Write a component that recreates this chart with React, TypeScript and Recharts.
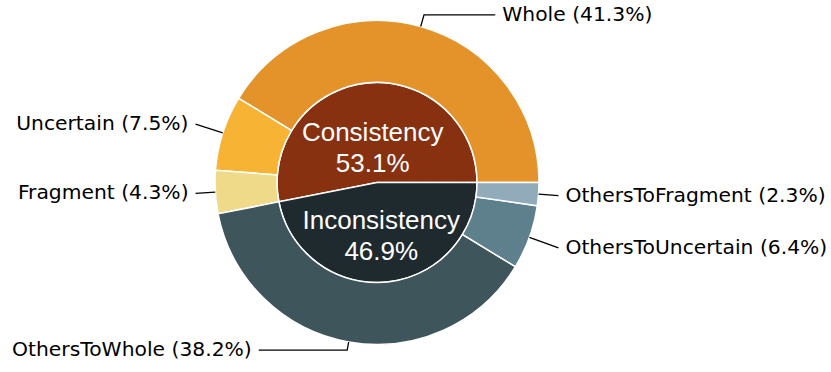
// App.tsx
// Nested pie: consistency split (inner) and its breakdown (outer ring).
import { PieChart, Pie, Cell } from "recharts";

const innerNames = ["Consistency", "Inconsistency"];
const innerValues = [53.1, 46.9];
const innerColors = ["#873110", "#1F2A2F"];

const outerNames = ["Whole", "Uncertain", "Fragment", "OthersToWhole", "OthersToUncertain", "OthersToFragment"];
const outerValues = [41.3, 7.5, 4.3, 38.2, 6.4, 2.3];
const outerColors = ["#E3932A", "#F7B334", "#EFDA8A", "#3E555C", "#5E7F8C", "#91ABBB"];

const innerData = innerNames.map((name, i) => ({ name, value: innerValues[i] }));
const outerData = outerNames.map((name, i) => ({ name, value: outerValues[i] }));

const RAD = Math.PI / 180;
const LABEL_FONT = "'DejaVu Sans', sans-serif";

function OuterLabel(props: any) {
  const { cx, cy, midAngle, outerRadius, name, value } = props;
  const cos = Math.cos(-midAngle * RAD);
  const sin = Math.sin(-midAngle * RAD);
  const sx = cx + outerRadius * cos;
  const sy = cy + outerRadius * sin;
  const side = cos >= 0 ? 1 : -1;
  let pts: [number, number][];
  if (Math.abs(cos) > 0.5) {
    // straight radial leader out to a fixed horizontal distance
    const t = (outerRadius * 1.12) / Math.abs(cos);
    pts = [[sx, sy], [cx + t * cos, cy + t * sin]];
  } else {
    // elbow: radial to just beyond the rim, then horizontal
    const ey = cy + (sin >= 0 ? 1 : -1) * outerRadius * 1.035;
    const t = (ey - cy) / sin;
    const ex = cx + t * cos;
    pts = [[sx, sy], [ex, ey], [cx + side * outerRadius * 0.73, ey]];
  }
  const [lx, ly] = pts[pts.length - 1];
  return (
    <g>
      <polyline
        points={pts.map((p) => p.join(",")).join(" ")}
        fill="none"
        stroke="#000"
        strokeWidth={1.3}
      />
      <text
        x={lx + side * 7}
        y={ly - 1}
        textAnchor={side > 0 ? "start" : "end"}
        dominantBaseline="central"
        fontFamily={LABEL_FONT}
        fontSize={20.3}
        fill="#000"
      >
        {`${name} (${value.toFixed(1)}%)`}
      </text>
    </g>
  );
}

function InnerLabel(props: any) {
  const { cx, cy, midAngle, outerRadius, name, value } = props;
  const r = outerRadius * 0.44;
  const x = cx + r * Math.cos(-midAngle * RAD);
  const y = cy + r * Math.sin(-midAngle * RAD) + 9;
  return (
    <text
      x={x}
      textAnchor="middle"
      fontFamily="'Liberation Sans', Arial, sans-serif"
      fontSize={26}
      fill="#fff"
    >
      <tspan x={x} y={y - 15.7} dominantBaseline="central">{name}</tspan>
      <tspan x={x} y={y + 15.7} dominantBaseline="central">{`${value.toFixed(1)}%`}</tspan>
    </text>
  );
}

export default function App() {
  return (
    <div style={{ position: "absolute", left: 0, top: 0, background: "#fff" }}>
      <PieChart width={831} height={372} margin={{ top: 0, right: 0, bottom: 0, left: 0 }}>
        <Pie
          data={innerData}
          dataKey="value"
          nameKey="name"
          cx={377}
          cy={182.5}
          outerRadius={100}
          startAngle={0}
          endAngle={360}
          stroke="#fff"
          strokeWidth={1.5}
          label={InnerLabel}
          labelLine={false}
          isAnimationActive={false}
        >
          {innerData.map((d, i) => (
            <Cell key={d.name} fill={innerColors[i]} />
          ))}
        </Pie>
        <Pie
          data={outerData}
          dataKey="value"
          nameKey="name"
          cx={377}
          cy={182.5}
          innerRadius={100}
          outerRadius={162}
          startAngle={0}
          endAngle={360}
          stroke="#fff"
          strokeWidth={1.5}
          label={OuterLabel}
          labelLine={false}
          isAnimationActive={false}
        >
          {outerData.map((d, i) => (
            <Cell key={d.name} fill={outerColors[i]} />
          ))}
        </Pie>
      </PieChart>
    </div>
  );
}
